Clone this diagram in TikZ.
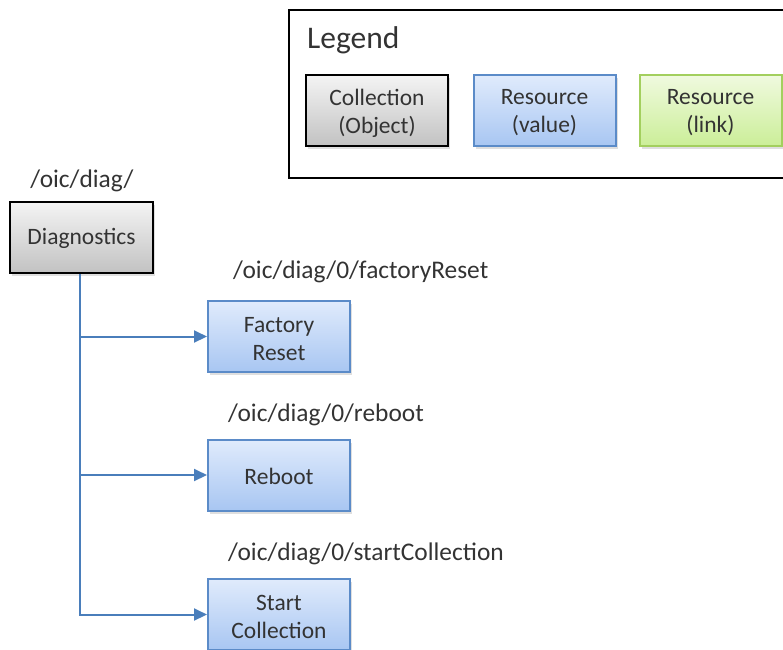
\documentclass[tikz,border=0pt]{standalone}
\usepackage{fontspec}
\setmainfont{Carlito}
\usetikzlibrary{arrows.meta,shadows}
\definecolor{txt}{HTML}{333333}
\definecolor{linkblue}{HTML}{4A7EBB}
\definecolor{resborder}{HTML}{5B8BC8}
\definecolor{restop}{HTML}{E0EBFC}
\definecolor{resbot}{HTML}{A8C6F2}
\definecolor{coltop}{HTML}{F4F4F4}
\definecolor{colbot}{HTML}{C2C2C2}
\definecolor{lnkborder}{HTML}{A3CF5E}
\definecolor{lnktop}{HTML}{F0FADF}
\definecolor{lnkbot}{HTML}{CBEE98}
\tikzset{
  box/.style={rectangle, minimum width=142pt, minimum height=71pt, inner sep=0pt,
    drop shadow={opacity=0.25, shadow xshift=2pt, shadow yshift=-3pt}},
  collection/.style={box, draw=black, line width=2pt, top color=coltop, bottom color=colbot},
  resource/.style={box, draw=resborder, line width=2pt, top color=restop, bottom color=resbot},
  reslink/.style={box, draw=lnkborder, line width=2pt, top color=lnktop, bottom color=lnkbot},
  boxtext/.style={inner sep=0pt, align=center, text=txt,
    font=\fontsize{23.5}{28}\selectfont},
  pathlabel/.style={text=txt, font=\fontsize{25.4}{30}\selectfont, inner sep=0pt},
  link/.style={draw=linkblue, line width=2pt, -{Triangle[length=13pt,width=12pt]}},
  trunk/.style={draw=linkblue, line width=2pt}
}
\begin{document}
\begin{tikzpicture}[x=1pt,y=-1pt]
\useasboundingbox (0,0) rectangle (783,649);

% legend frame
\draw[line width=2pt] (289,10) rectangle (800,178);
\node[anchor=base west, text=txt, font=\fontsize{31.5}{36}\selectfont, inner sep=0pt] (legendtitle) at (307,48) {Legend};
\node[collection] (lcol) at (377,110.5) {};
\node[boxtext] (lcoltext) at ([yshift=-2.5pt]lcol.center) {Collection\\(Object)};
\node[resource] (lres) at (544.5,110.5) {};
\node[boxtext] (lrestext) at ([yshift=-2.5pt]lres.center) {Resource\\(value)};
\node[reslink] (llink) at (710.5,110.5) {};
\node[boxtext] (llinktext) at ([yshift=-2.5pt]llink.center) {Resource\\(link)};

% diagnostics collection
\node[pathlabel] (diaglbl) at (82,181) {/oic/diag/};
\node[collection, minimum width=143pt] (diag) at (81.5,237.5) {};
\node[boxtext] (diagtext) at ([yshift=-1pt]diag.center) {Diagnostics};

% child resources
\node[pathlabel, anchor=west] (frlbl) at (233,272) {/oic/diag/0/factoryReset};
\node[resource] (fr) at (279,336.5) {};
\node[boxtext] (frtext) at ([yshift=-2.5pt]fr.center) {Factory\\Reset};

\node[pathlabel, anchor=west] (rblbl) at (228,415) {/oic/diag/0/reboot};
\node[resource] (rb) at (279,475) {};
\node[boxtext] (rbtext) at ([yshift=-1pt]rb.center) {Reboot};

\node[pathlabel, anchor=west] (sclbl) at (228,554) {/oic/diag/0/startCollection};
\node[resource] (sc) at (279,614.5) {};
\node[boxtext] (sctext) at ([yshift=-2.5pt]sc.center) {Start\\Collection};

% connectors
\coordinate (t1) at (80,336.5);
\coordinate (t2) at (80,475);
\coordinate (t3) at (80,614.5);
\draw[trunk] (diag.south -| t1) -- (t3) -- ++(-1,0);
\draw[link] (t1) -- (fr.west);
\draw[link] (t2) -- (rb.west);
\draw[link] (t3) -- (sc.west);
\end{tikzpicture}
\end{document}
